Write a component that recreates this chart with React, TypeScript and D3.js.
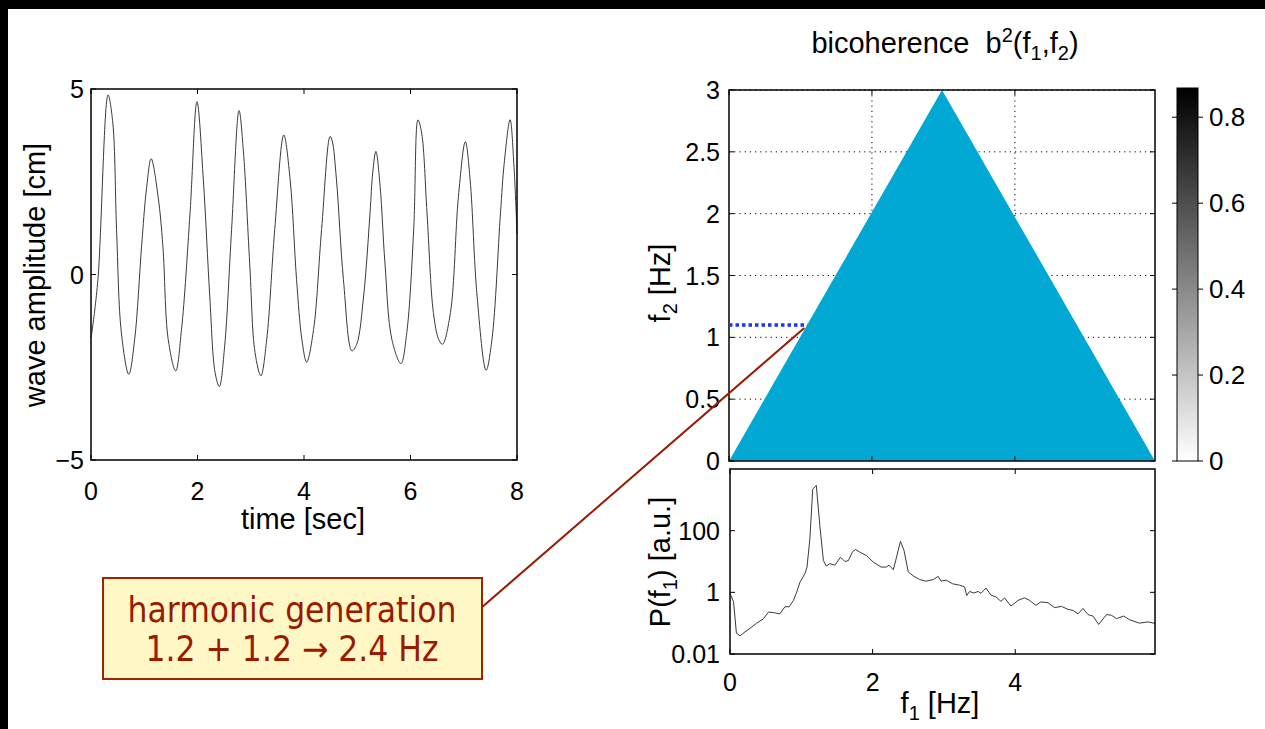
import React from 'react';
import * as d3 from 'd3';

// ---- data ----
const waveT = [0, 0.02, 0.13, 0.32, 0.41, 0.48, 0.57, 0.71, 0.82, 0.95, 1.04, 1.13, 1.26, 1.35, 1.45, 1.59, 1.70, 1.86, 1.99, 2.11, 2.23, 2.33, 2.41, 2.51, 2.64, 2.78, 2.86, 2.98, 3.08, 3.19, 3.30, 3.45, 3.62, 3.74, 3.86, 3.96, 4.05, 4.18, 4.33, 4.49, 4.53, 4.61, 4.74, 4.90, 4.99, 5.12, 5.24, 5.29, 5.35, 5.43, 5.52, 5.65, 5.82, 5.93, 6.06, 6.14, 6.21, 6.31, 6.43, 6.53, 6.60, 6.75, 6.90, 7.03, 7.12, 7.25, 7.42, 7.53, 7.69, 7.76, 7.87, 7.94, 8.0];
const waveA = [-1.7, -1.52, -0.13, 4.84, 4.08, 1.21, -1.57, -2.69, -1.75, 0.76, 2.28, 3.12, 2.1, 0.76, -1.75, -2.6, -1.48, 1.66, 4.66, 2.55, -0.58, -2.64, -3.02, -1.93, 1.21, 4.42, 3.36, 0.31, -2.1, -2.73, -1.75, 1.21, 3.76, 2.55, -0.13, -1.75, -2.36, -1.48, 1.21, 3.72, 3.6, 2.55, -0.13, -2.06, -1.88, -0.58, 1.66, 2.73, 3.32, 2.37, 0.31, -1.75, -2.4, -1.57, 1.21, 4.17, 3.81, 1.66, -1.03, -1.75, -1.88, -1.03, 2.1, 3.58, 2.55, -0.58, -2.58, -1.75, 1.66, 3.0, 4.17, 3.0, 1.1];

const specF = [0, 0.05, 0.09, 0.14, 0.21, 0.28, 0.37, 0.47, 0.54, 0.61, 0.70, 0.77, 0.83, 0.89, 0.93, 0.98, 1.05, 1.08, 1.12, 1.16, 1.21, 1.26, 1.31, 1.35, 1.40, 1.47, 1.55, 1.61, 1.66, 1.72, 1.76, 1.84, 1.91, 2.01, 2.12, 2.19, 2.23, 2.29, 2.33, 2.39, 2.44, 2.50, 2.57, 2.66, 2.75, 2.85, 2.92, 2.96, 3.03, 3.12, 3.22, 3.29, 3.32, 3.36, 3.42, 3.48, 3.52, 3.59, 3.66, 3.73, 3.80, 3.85, 3.94, 4.04, 4.13, 4.20, 4.29, 4.36, 4.46, 4.55, 4.65, 4.74, 4.81, 4.88, 4.95, 5.02, 5.09, 5.17, 5.28, 5.35, 5.42, 5.52, 5.60, 5.74, 5.86, 5.96];
const specP = [0.93, 0.49, 0.047, 0.039, 0.052, 0.068, 0.098, 0.14, 0.23, 0.22, 0.20, 0.34, 0.34, 0.55, 0.93, 2.1, 4.0, 6.6, 54, 2200, 2950, 145, 10.7, 7.1, 8.5, 7.6, 13.8, 10, 10.7, 21, 24.5, 19, 15.8, 9.5, 6.6, 6.6, 7.6, 5.4, 12.3, 45, 23, 4.6, 3.4, 2.6, 2.3, 2.6, 3.3, 2.3, 2.5, 1.9, 1.7, 1.5, 0.79, 1.07, 0.95, 1.07, 0.93, 1.38, 0.81, 0.71, 0.51, 0.66, 0.36, 0.55, 0.66, 0.55, 0.38, 0.49, 0.46, 0.32, 0.35, 0.28, 0.26, 0.20, 0.30, 0.19, 0.17, 0.091, 0.19, 0.18, 0.14, 0.17, 0.13, 0.10, 0.11, 0.098];

const timeTicks = [0, 2, 4, 6, 8];
const ampTicks = [-5, 0, 5];
const f1Ticks = [0, 2, 4];
const f2Ticks = [0, 0.5, 1, 1.5, 2, 2.5, 3];
const cbTicks = [0, 0.2, 0.4, 0.6, 0.8];
const pTicks = [0.01, 1, 100];
const triF1 = [0, 2.98, 5.96];
const triF2 = [0, 3, 0];
const pumpF2 = 1.1;
const pumpF1 = 1.095;
const cbMax = 0.868;
const f1Max = 5.96;

const FONT = '"Liberation Sans", Arial, Helvetica, sans-serif';
const ANNOT_FONT = '"DejaVu Sans Condensed", "DejaVu Sans", sans-serif';
const fmt = (v: number) => (v < 0 ? '\u2212' + Math.abs(v) : String(v));

const TICK_FS = 25;
const LAB_FS = 29;
const SUB_FS = 20;

export default function App() {
  // left panel
  const xT = d3.scaleLinear().domain([0, 8]).range([91, 517]);
  const yA = d3.scaleLinear().domain([-5, 5]).range([460, 89]);
  const waveLine = d3.line<number>().x((_, i) => xT(waveT[i])).y((d) => yA(d)).curve(d3.curveCatmullRom.alpha(0.5));

  // bicoherence panel
  const xF = d3.scaleLinear().domain([0, f1Max]).range([729, 1155]);
  const yF2 = d3.scaleLinear().domain([0, 3]).range([461, 90]);
  const triPts = triF1.map((f, i) => `${xF(f)},${yF2(triF2[i])}`).join(' ');

  // colorbar
  const yCb = d3.scaleLinear().domain([0, cbMax]).range([461, 88]);
  const cbX0 = 1177, cbX1 = 1198;

  // spectrum panel
  const xS = d3.scaleLinear().domain([0, f1Max]).range([730, 1155]);
  const yP = d3.scaleLog().domain([0.01, 10000]).range([654, 469]);
  const specLine = d3.line<number>().x((_, i) => xS(specF[i])).y((d) => yP(d));

  const tl = 5;

  return (
    <svg width={1265} height={729} style={{ position: 'absolute', left: 0, top: 0, background: '#fff' }} fontFamily={FONT}>
      <defs>
        <linearGradient id="cbg" x1="0" y1="1" x2="0" y2="0">
          <stop offset="0" stopColor="#ffffff" />
          <stop offset="1" stopColor="#000000" />
        </linearGradient>
      </defs>
      <rect x={0} y={0} width={1265} height={729} fill="#fff" />
      {/* black frame */}
      <rect x={0} y={0} width={1265} height={9} fill="#000" />
      <rect x={0} y={0} width={8} height={729} fill="#000" />

      {/* ===== left: wave ===== */}
      <path d={waveLine(waveA) || ''} fill="none" stroke="#3a3a3a" strokeWidth={1} />
      <rect x={91} y={89} width={426} height={371} fill="none" stroke="#000" strokeWidth={1.5} />
      {timeTicks.map((t) => (
        <g key={'tt' + t}>
          <line x1={xT(t)} x2={xT(t)} y1={460} y2={460 - tl} stroke="#000" />
          <line x1={xT(t)} x2={xT(t)} y1={89} y2={89 + tl} stroke="#000" />
          <text x={xT(t)} y={500} textAnchor="middle" fontSize={TICK_FS}>{fmt(t)}</text>
        </g>
      ))}
      {ampTicks.map((a) => (
        <g key={'at' + a}>
          <line x1={91} x2={91 + tl} y1={yA(a)} y2={yA(a)} stroke="#000" />
          <line x1={517} x2={517 - tl} y1={yA(a)} y2={yA(a)} stroke="#000" />
          <text x={84} y={yA(a) + 9} textAnchor="end" fontSize={TICK_FS}>{fmt(a)}</text>
        </g>
      ))}
      <text x={303} y={529} textAnchor="middle" fontSize={LAB_FS}>time [sec]</text>
      <text transform={`translate(45,275) rotate(-90)`} textAnchor="middle" fontSize={LAB_FS}>wave amplitude [cm]</text>

      {/* ===== bicoherence ===== */}
      {f1Ticks.filter((f) => f > 0).map((f) => (
        <line key={'gx' + f} x1={xF(f)} x2={xF(f)} y1={90} y2={461} stroke="#000" strokeWidth={1} strokeDasharray="1.2 4" />
      ))}
      {f2Ticks.filter((f) => f > 0).map((f) => (
        <line key={'gy' + f} x1={729} x2={1155} y1={yF2(f)} y2={yF2(f)} stroke="#000" strokeWidth={1} strokeDasharray="1.2 4" />
      ))}
      <polygon points={triPts} fill="#00a8d3" />
      <rect x={729} y={90} width={426} height={371} fill="none" stroke="#000" strokeWidth={1.5} />
      {f1Ticks.map((f) => (
        <g key={'ft' + f}>
          <line x1={xF(f)} x2={xF(f)} y1={461} y2={461 - tl} stroke="#000" />
          <line x1={xF(f)} x2={xF(f)} y1={90} y2={90 + tl} stroke="#000" />
        </g>
      ))}
      {f2Ticks.map((f) => (
        <g key={'f2t' + f}>
          <line x1={729} x2={729 + tl} y1={yF2(f)} y2={yF2(f)} stroke="#000" />
          <line x1={1155} x2={1155 - tl} y1={yF2(f)} y2={yF2(f)} stroke="#000" />
          <text x={720} y={yF2(f) + 9} textAnchor="end" fontSize={TICK_FS}>{String(f)}</text>
        </g>
      ))}
      <line x1={xF(0)} x2={xF(pumpF1)} y1={yF2(pumpF2)} y2={yF2(pumpF2)} stroke="#1a35ff" strokeWidth={3.5} strokeDasharray="3.5 3" />
      <text x={945} y={53} textAnchor="middle" fontSize={LAB_FS} style={{ whiteSpace: 'pre' }}>
        {'bicoherence  b'}
        <tspan dy={-11} fontSize={SUB_FS}>2</tspan>
        <tspan dy={11}>(f</tspan>
        <tspan dy={7} fontSize={SUB_FS}>1</tspan>
        <tspan dy={-7}>,f</tspan>
        <tspan dy={7} fontSize={SUB_FS}>2</tspan>
        <tspan dy={-7}>)</tspan>
      </text>
      <text transform={`translate(670,283) rotate(-90)`} textAnchor="middle" fontSize={LAB_FS}>
        f<tspan dy={7} fontSize={SUB_FS}>2</tspan><tspan dy={-7}> [Hz]</tspan>
      </text>

      {/* colorbar */}
      <rect x={cbX0} y={yCb(cbMax)} width={cbX1 - cbX0} height={yCb(0) - yCb(cbMax)} fill="url(#cbg)" stroke="#000" strokeWidth={1} />
      {cbTicks.map((c) => (
        <g key={'cb' + c}>
          <line x1={cbX0 - 5} x2={cbX0} y1={yCb(c)} y2={yCb(c)} stroke="#000" />
          <line x1={cbX1} x2={cbX1 + 5} y1={yCb(c)} y2={yCb(c)} stroke="#000" />
          <text x={1209} y={yCb(c) + 9} fontSize={26}>{String(c)}</text>
        </g>
      ))}

      {/* ===== spectrum ===== */}
      <path d={specLine(specP) || ''} fill="none" stroke="#3a3a3a" strokeWidth={1} />
      <rect x={730} y={469} width={425} height={185} fill="none" stroke="#000" strokeWidth={1.5} />
      {f1Ticks.map((f) => (
        <g key={'st' + f}>
          <line x1={xS(f)} x2={xS(f)} y1={654} y2={654 - tl} stroke="#000" />
          <line x1={xS(f)} x2={xS(f)} y1={469} y2={469 + tl} stroke="#000" />
          <text x={xS(f)} y={691} textAnchor="middle" fontSize={TICK_FS}>{String(f)}</text>
        </g>
      ))}
      {pTicks.map((p) => (
        <g key={'pt' + p}>
          <line x1={730} x2={730 + tl} y1={yP(p)} y2={yP(p)} stroke="#000" />
          <line x1={1155} x2={1155 - tl} y1={yP(p)} y2={yP(p)} stroke="#000" />
          <text x={720} y={yP(p) + 9} textAnchor="end" fontSize={TICK_FS}>{String(p)}</text>
        </g>
      ))}
      <text x={940} y={713} textAnchor="middle" fontSize={LAB_FS}>
        f<tspan dy={7} fontSize={SUB_FS}>1</tspan><tspan dy={-7}> [Hz]</tspan>
      </text>
      <text transform={`translate(670,562) rotate(-90)`} textAnchor="middle" fontSize={LAB_FS}>
        P(f<tspan dy={7} fontSize={SUB_FS}>1</tspan><tspan dy={-7}>) [a.u.]</tspan>
      </text>

      {/* ===== annotation ===== */}
      <line x1={481} y1={608} x2={xF(pumpF1) - 3} y2={yF2(pumpF2) + 3} stroke="#9a1a00" strokeWidth={2} />
      <rect x={103} y={578} width={379} height={101} fill="#fff7c6" stroke="#a32200" strokeWidth={2} />
      <text x={292} y={622} textAnchor="middle" fontSize={35} fill="#9a1a00" fontFamily={ANNOT_FONT}>harmonic generation</text>
      <text x={292} y={661} textAnchor="middle" fontSize={35} fill="#9a1a00" fontFamily={ANNOT_FONT}>1.2 + 1.2 → 2.4 Hz</text>
    </svg>
  );
}
